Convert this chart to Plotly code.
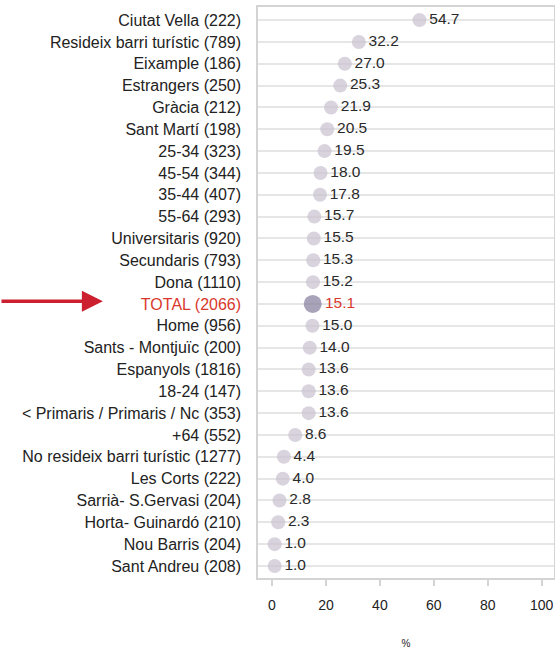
import plotly.graph_objects as go

categories = [
    "Ciutat Vella (222)", "Resideix barri turístic (789)", "Eixample (186)",
    "Estrangers (250)", "Gràcia (212)", "Sant Martí (198)", "25-34 (323)",
    "45-54 (344)", "35-44 (407)", "55-64 (293)", "Universitaris (920)",
    "Secundaris (793)", "Dona (1110)", "TOTAL (2066)", "Home (956)",
    "Sants - Montjuïc (200)", "Espanyols (1816)", "18-24 (147)",
    "< Primaris / Primaris / Nc (353)", "+64 (552)",
    "No resideix barri turístic (1277)", "Les Corts (222)",
    "Sarrià- S.Gervasi (204)", "Horta- Guinardó (210)", "Nou Barris (204)",
    "Sant Andreu (208)",
]
values = [54.7, 32.2, 27.0, 25.3, 21.9, 20.5, 19.5, 18.0, 17.8, 15.7, 15.5,
          15.3, 15.2, 15.1, 15.0, 14.0, 13.6, 13.6, 13.6, 8.6, 4.4, 4.0, 2.8,
          2.3, 1.0, 1.0]
x_ticks = [0, 20, 40, 60, 80, 100]

total_label = "TOTAL (2066)"
idx = list(range(len(categories)))
is_total = [c == total_label for c in categories]

ticktext = [
    f"<span style='color:#d9382c'>{c}</span>" if t else c
    for c, t in zip(categories, is_total)
]

FONT = "Liberation Sans, Arial, sans-serif"

fig = go.Figure()
fig.add_trace(go.Scatter(
    x=values,
    y=idx,
    mode="markers+text",
    marker=dict(
        size=[18 if t else 14 for t in is_total],
        color=["#857c9d" if t else "#c8c0cf" for t in is_total],
        line=dict(width=0),
    ),
    text=[f"{v:.1f}" for v in values],
    textposition="middle right",
    textfont=dict(
        family=FONT,
        size=15.5,
        color=["#d9382c" if t else "#2a2a2a" for t in is_total],
    ),
    cliponaxis=False,
    hoverinfo="skip",
    showlegend=False,
))

fig.update_layout(
    width=555, height=649,
    margin=dict(l=258, r=1, t=7, b=71),
    paper_bgcolor="white",
    plot_bgcolor="white",
    font=dict(family=FONT, size=16, color="#222222"),
    xaxis=dict(
        range=[-5.19, 104.56],
        tickvals=x_ticks,
        ticktext=[str(t) for t in x_ticks],
        showgrid=False,
        zeroline=False,
        automargin=False,
        showline=True, linecolor="#d4d4d4", linewidth=1.5, mirror=True,
        ticks="outside", ticklen=6, tickcolor="#d4d4d4", tickwidth=1.5,
        ticklabelstandoff=7,
        tickfont=dict(size=14, color="#222222"),
        title=dict(text="%", font=dict(size=10, color="#222222"), standoff=34),
    ),
    yaxis=dict(
        range=[25.55, -0.6],
        tickvals=idx,
        ticktext=ticktext,
        showgrid=True, gridcolor="#e6e6e6", gridwidth=2,
        zeroline=False,
        automargin=False,
        showline=True, linecolor="#d4d4d4", linewidth=1.5, mirror=True,
        ticks="", ticklabelstandoff=12,
        tickfont=dict(size=16, color="#222222"),
    ),
)

# red arrow pointing to the TOTAL row
fig.add_annotation(
    x=-0.524, y=categories.index(total_label) - 0.12,
    xref="paper", yref="y",
    ax=-103, ay=0,
    text="", showarrow=True,
    arrowhead=2, arrowsize=1.2, arrowwidth=3.5, arrowcolor="#cc1f30",
)

fig.write_html(
    "out.html",
    config={"displayModeBar": False},
    post_script="document.body.style.margin='0';",
)
